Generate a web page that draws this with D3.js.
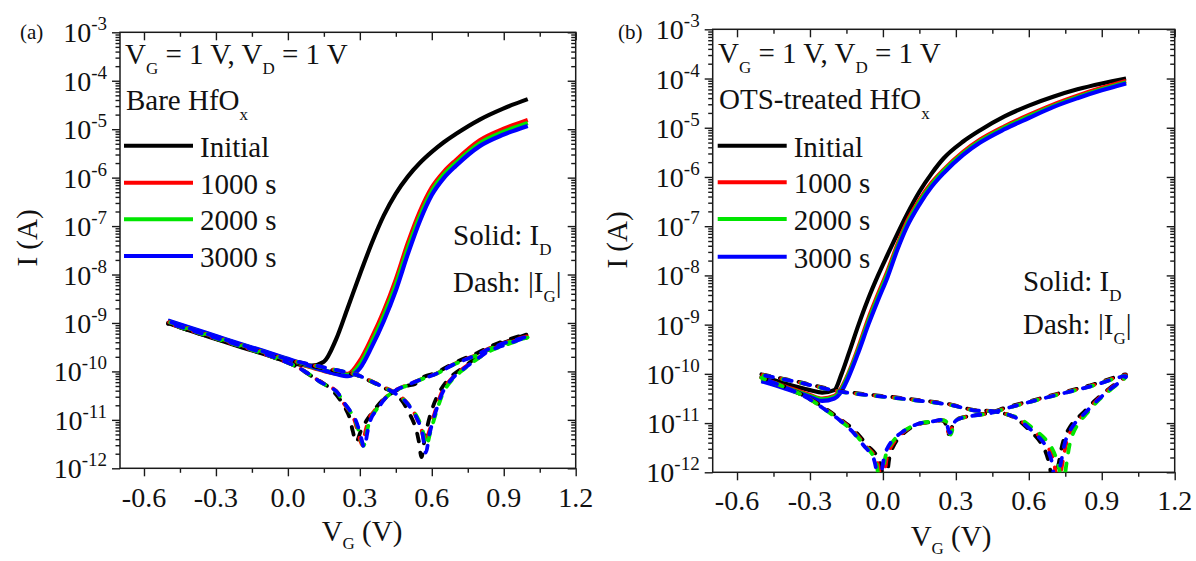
<!DOCTYPE html>
<html>
<head>
<meta charset="utf-8">
<script src="https://cdn.jsdelivr.net/npm/d3@7/dist/d3.min.js"></script>
<style>
  body { margin: 0; background: #fff; }
  svg text { font-family: "Liberation Serif", "Times New Roman", serif; fill: #111; }
</style>
</head>
<body>
<svg id="fig" width="1196" height="561"></svg>
<script>
// ---------- data ----------
const seriesNames = ["Initial", "1000 s", "2000 s", "3000 s"];
const seriesColors = ["#000000", "#ff0000", "#00e600", "#0000ff"];

const xTickValues = [-0.6, -0.3, 0.0, 0.3, 0.6, 0.9, 1.2];
const xTickLabels = ["-0.6", "-0.3", "0.0", "0.3", "0.6", "0.9", "1.2"];
const xMinorValues = [-0.45, -0.15, 0.15, 0.45, 0.75, 1.05];
const yDecadeExponents = [-12, -11, -10, -9, -8, -7, -6, -5, -4, -3];

// (a) bare HfOx: drain current on a shared gate-voltage grid
const vgA = [-0.5, -0.4, -0.3, -0.2, -0.1, 0.0, 0.05, 0.1, 0.15, 0.2, 0.25, 0.3, 0.35, 0.4, 0.45, 0.5, 0.55, 0.6, 0.65, 0.7, 0.8, 0.9, 1.0];
const idA_initial = [1.0e-9, 6.76e-10, 4.68e-10, 3.24e-10, 2.29e-10, 1.58e-10, 1.38e-10, 1.32e-10, 1.58e-10, 4.47e-10, 2.09e-9, 1.0e-8, 4.47e-8, 1.66e-7, 4.68e-7, 1.05e-6, 2.0e-6, 3.39e-6, 5.37e-6, 7.94e-6, 1.58e-5, 2.69e-5, 4.17e-5];
const idA_1000 = [1.07e-9, 7.41e-10, 5.13e-10, 3.55e-10, 2.51e-10, 1.74e-10, 1.45e-10, 1.20e-10, 1.02e-10, 9.12e-11, 8.91e-11, 1.66e-10, 5.01e-10, 1.78e-9, 7.94e-9, 4.47e-8, 2.0e-7, 6.31e-7, 1.32e-6, 2.29e-6, 5.89e-6, 1.02e-5, 1.55e-5];
const idA_2000 = [1.10e-9, 7.59e-10, 5.25e-10, 3.63e-10, 2.57e-10, 1.78e-10, 1.48e-10, 1.23e-10, 1.05e-10, 9.12e-11, 8.51e-11, 1.38e-10, 4.07e-10, 1.41e-9, 6.17e-9, 3.47e-8, 1.58e-7, 5.25e-7, 1.15e-6, 2.0e-6, 5.13e-6, 8.91e-6, 1.35e-5];
const idA_3000 = [1.12e-9, 7.76e-10, 5.37e-10, 3.72e-10, 2.63e-10, 1.82e-10, 1.51e-10, 1.26e-10, 1.05e-10, 8.91e-11, 7.94e-11, 1.15e-10, 3.24e-10, 1.10e-9, 4.68e-9, 2.63e-8, 1.26e-7, 4.37e-7, 9.77e-7, 1.74e-6, 4.47e-6, 7.76e-6, 1.17e-5];

// (a) gate leakage |IG|, forward then reverse sweep as [VG, |IG|]
const igA_initial = [[-0.5,1.0e-9],[-0.3,4.9e-10],[-0.1,2.4e-10],[0.0,1.7e-10],[0.15,1.15e-10],[0.29,8.3e-11],[0.34,6.4e-11],[0.40,4.6e-11],[0.44,3.6e-11],[0.475,2.5e-11],[0.505,1.4e-11],[0.53,7.5e-12],[0.545,3.8e-12],[0.557,1.7e-12],[0.572,4.5e-12],[0.60,1.6e-11],[0.635,4.0e-11],[0.68,7.8e-11],[0.73,1.2e-10],[0.79,2.0e-10],[0.84,2.9e-10],[0.91,4.1e-10],[1.0,5.9e-10],
  [0.91,4.4e-10],[0.84,3.2e-10],[0.786,2.35e-10],[0.70,1.55e-10],[0.62,9.5e-11],[0.56,7.4e-11],[0.53,5.5e-11],[0.495,5.0e-11],[0.45,4.0e-11],[0.40,2.7e-11],[0.36,1.6e-11],[0.33,1.0e-11],[0.305,6.0e-12],[0.285,3.5e-12],[0.27,6.0e-12],[0.255,1.2e-11],[0.22,2.5e-11],[0.18,4.3e-11],[0.13,6.5e-11],[0.09,8.5e-11],[0.03,1.3e-10],[-0.1,2.3e-10],[-0.3,4.7e-10],[-0.5,9.6e-10]];
const igA_1000 = [[-0.5,1.05e-9],[-0.3,5.1e-10],[-0.1,2.5e-10],[0.0,1.75e-10],[0.15,1.2e-10],[0.29,8.5e-11],[0.34,6.6e-11],[0.40,4.8e-11],[0.44,3.8e-11],[0.48,2.75e-11],[0.52,1.6e-11],[0.54,1.0e-11],[0.557,6.2e-12],[0.572,3.4e-12],[0.59,6.0e-12],[0.62,1.85e-11],[0.647,4.2e-11],[0.69,7.8e-11],[0.73,1.15e-10],[0.79,1.85e-10],[0.84,2.7e-10],[0.91,3.7e-10],[1.0,5.3e-10],
  [0.91,4.0e-10],[0.84,3.0e-10],[0.786,2.2e-10],[0.70,1.48e-10],[0.62,9.1e-11],[0.564,7.2e-11],[0.495,5.2e-11],[0.453,4.2e-11],[0.411,3.0e-11],[0.37,1.74e-11],[0.342,1.15e-11],[0.325,6.3e-12],[0.31,3.0e-12],[0.292,5.6e-12],[0.272,1.15e-11],[0.23,2.3e-11],[0.2,4.0e-11],[0.133,6.2e-11],[0.105,7.8e-11],[0.036,1.26e-10],[-0.1,2.3e-10],[-0.3,4.8e-10],[-0.5,9.8e-10]];
const igA_2000 = [[-0.5,1.06e-9],[-0.3,5.15e-10],[-0.1,2.52e-10],[0.0,1.76e-10],[0.15,1.2e-10],[0.29,8.4e-11],[0.34,6.5e-11],[0.40,4.7e-11],[0.44,3.7e-11],[0.48,2.7e-11],[0.52,1.6e-11],[0.545,1.0e-11],[0.562,6.0e-12],[0.578,3.0e-12],[0.595,5.8e-12],[0.625,1.8e-11],[0.652,4.0e-11],[0.695,7.6e-11],[0.735,1.12e-10],[0.79,1.8e-10],[0.84,2.6e-10],[0.91,3.55e-10],[1.0,5.0e-10],
  [0.91,3.85e-10],[0.84,2.9e-10],[0.786,2.15e-10],[0.70,1.45e-10],[0.62,9.0e-11],[0.564,7.1e-11],[0.495,5.1e-11],[0.453,4.1e-11],[0.411,2.95e-11],[0.372,1.7e-11],[0.346,1.1e-11],[0.33,6.0e-12],[0.315,2.9e-12],[0.297,5.5e-12],[0.276,1.1e-11],[0.234,2.25e-11],[0.2,3.9e-11],[0.133,6.1e-11],[0.105,7.7e-11],[0.036,1.25e-10],[-0.1,2.3e-10],[-0.3,4.8e-10],[-0.5,9.9e-10]];
const igA_3000 = [[-0.5,1.08e-9],[-0.3,5.2e-10],[-0.1,2.55e-10],[0.0,1.78e-10],[0.15,1.21e-10],[0.29,8.4e-11],[0.34,6.5e-11],[0.40,4.7e-11],[0.44,3.7e-11],[0.48,2.7e-11],[0.52,1.55e-11],[0.543,9.5e-12],[0.56,5.5e-12],[0.575,2.1e-12],[0.592,5.5e-12],[0.622,1.8e-11],[0.65,4.1e-11],[0.692,7.7e-11],[0.733,1.13e-10],[0.79,1.82e-10],[0.84,2.65e-10],[0.91,3.6e-10],[1.0,5.2e-10],
  [0.91,3.95e-10],[0.84,2.95e-10],[0.786,2.18e-10],[0.70,1.46e-10],[0.62,9.0e-11],[0.564,7.1e-11],[0.495,5.15e-11],[0.453,4.15e-11],[0.411,2.95e-11],[0.374,1.7e-11],[0.348,1.1e-11],[0.333,6.0e-12],[0.318,2.7e-12],[0.3,5.5e-12],[0.278,1.1e-11],[0.235,2.25e-11],[0.2,3.95e-11],[0.133,6.15e-11],[0.105,7.75e-11],[0.036,1.25e-10],[-0.1,2.35e-10],[-0.3,4.9e-10],[-0.5,1.0e-9]];

// (b) OTS-treated HfOx: drain current on a shared gate-voltage grid
const vgB = [-0.5, -0.4, -0.3, -0.25, -0.2, -0.17, -0.14, -0.1, -0.06, -0.02, 0.02, 0.06, 0.1, 0.15, 0.2, 0.25, 0.33, 0.4, 0.5, 0.6, 0.7, 0.8, 0.9, 1.0];
const idB_initial = [8.91e-11, 6.31e-11, 4.68e-11, 4.17e-11, 4.68e-11, 1.0e-10, 2.63e-10, 1.0e-9, 3.39e-9, 1.0e-8, 2.69e-8, 7.08e-8, 1.78e-7, 5.01e-7, 1.17e-6, 2.40e-6, 5.25e-6, 8.91e-6, 1.70e-5, 2.82e-5, 4.27e-5, 6.03e-5, 7.94e-5, 1.0e-4];
const idB_1000 = [7.94e-11, 5.50e-11, 3.72e-11, 3.16e-11, 3.55e-11, 5.25e-11, 1.07e-10, 3.55e-10, 1.32e-9, 4.17e-9, 1.26e-8, 4.27e-8, 1.26e-7, 3.39e-7, 7.59e-7, 1.41e-6, 3.24e-6, 5.75e-6, 1.07e-5, 1.82e-5, 2.95e-5, 4.47e-5, 6.46e-5, 8.91e-5];
const idB_2000 = [7.59e-11, 5.25e-11, 3.55e-11, 3.02e-11, 3.39e-11, 4.90e-11, 1.0e-10, 3.16e-10, 1.15e-9, 3.63e-9, 1.10e-8, 3.80e-8, 1.12e-7, 3.09e-7, 6.92e-7, 1.32e-6, 3.02e-6, 5.37e-6, 1.0e-5, 1.70e-5, 2.75e-5, 4.17e-5, 6.03e-5, 8.32e-5];
const idB_3000 = [7.08e-11, 5.01e-11, 3.39e-11, 2.82e-11, 3.16e-11, 4.47e-11, 8.91e-11, 2.82e-10, 1.0e-9, 3.16e-9, 9.55e-9, 3.39e-8, 1.0e-7, 2.75e-7, 6.31e-7, 1.20e-6, 2.82e-6, 5.01e-6, 9.33e-6, 1.58e-5, 2.63e-5, 3.98e-5, 5.75e-5, 7.94e-5];

// (b) gate leakage |IG|, forward then reverse sweep as [VG, |IG|]
const igB_initial = [[-0.5,9.8e-11],[-0.35,6.9e-11],[-0.176,4.5e-11],[0.07,3.25e-11],[0.277,2.4e-11],[0.372,1.85e-11],[0.45,1.75e-11],[0.51,1.5e-11],[0.55,1.22e-11],[0.6,7.4e-12],[0.64,4.6e-12],[0.665,2.9e-12],[0.685,1.4e-12],[0.70,5.0e-13],[0.72,1.3e-12],[0.745,4.8e-12],[0.78,1.0e-11],[0.825,1.65e-11],[0.875,2.95e-11],[0.93,5.0e-11],[1.0,9.6e-11],
  [0.85,5.8e-11],[0.714,3.9e-11],[0.605,2.8e-11],[0.509,2.1e-11],[0.44,1.62e-11],[0.36,1.4e-11],[0.3,1.15e-11],[0.27,6.0e-12],[0.25,1.1e-11],[0.2,1.05e-11],[0.14,9.3e-12],[0.09,6.5e-12],[0.055,4.3e-12],[0.03,2.3e-12],[0.01,6.0e-13],[-0.02,2.0e-12],[-0.065,3.6e-12],[-0.12,7.3e-12],[-0.175,1.2e-11],[-0.235,1.95e-11],[-0.3,3.1e-11],[-0.38,4.9e-11],[-0.5,8.6e-11]];
const igB_1000 = [[-0.5,9.6e-11],[-0.35,6.8e-11],[-0.176,4.4e-11],[0.07,3.2e-11],[0.277,2.36e-11],[0.372,1.83e-11],[0.45,1.74e-11],[0.51,1.51e-11],[0.55,1.26e-11],[0.608,7.8e-12],[0.65,5.0e-12],[0.68,3.2e-12],[0.703,1.6e-12],[0.72,5.0e-13],[0.738,1.5e-12],[0.762,5.2e-12],[0.795,1.02e-11],[0.835,1.62e-11],[0.88,2.9e-11],[0.93,4.8e-11],[1.0,9.3e-11],
  [0.85,5.6e-11],[0.714,3.8e-11],[0.605,2.72e-11],[0.509,2.02e-11],[0.44,1.6e-11],[0.36,1.39e-11],[0.3,1.13e-11],[0.272,6.2e-12],[0.252,1.12e-11],[0.2,1.06e-11],[0.14,9.4e-12],[0.085,6.6e-12],[0.05,4.4e-12],[0.02,2.4e-12],[0.0,6.0e-13],[-0.03,2.0e-12],[-0.072,3.55e-12],[-0.125,7.2e-12],[-0.178,1.18e-11],[-0.238,1.92e-11],[-0.3,3.05e-11],[-0.38,4.8e-11],[-0.5,8.4e-11]];
const igB_2000 = [[-0.5,9.5e-11],[-0.35,6.75e-11],[-0.176,4.36e-11],[0.07,3.15e-11],[0.277,2.33e-11],[0.372,1.81e-11],[0.45,1.73e-11],[0.51,1.5e-11],[0.56,1.25e-11],[0.62,7.6e-12],[0.665,4.9e-12],[0.695,3.1e-12],[0.72,1.5e-12],[0.74,5.0e-13],[0.755,1.5e-12],[0.775,5.0e-12],[0.805,1.0e-11],[0.84,1.6e-11],[0.885,2.85e-11],[0.935,4.7e-11],[1.0,9.0e-11],
  [0.85,5.5e-11],[0.714,3.72e-11],[0.605,2.69e-11],[0.509,2.0e-11],[0.44,1.58e-11],[0.36,1.38e-11],[0.3,1.12e-11],[0.278,5.8e-12],[0.258,1.1e-11],[0.2,1.07e-11],[0.14,9.5e-12],[0.08,6.6e-12],[0.045,4.5e-12],[0.015,2.5e-12],[-0.01,6.3e-13],[-0.035,2.0e-12],[-0.076,3.55e-12],[-0.128,7.1e-12],[-0.18,1.17e-11],[-0.24,1.91e-11],[-0.3,3.02e-11],[-0.38,4.79e-11],[-0.5,8.3e-11]];
const igB_3000 = [[-0.5,9.55e-11],[-0.35,6.76e-11],[-0.176,4.37e-11],[0.07,3.16e-11],[0.277,2.34e-11],[0.372,1.82e-11],[0.45,1.74e-11],[0.51,1.51e-11],[0.55,1.26e-11],[0.605,7.6e-12],[0.646,4.9e-12],[0.673,3.2e-12],[0.695,1.6e-12],[0.71,5.0e-13],[0.73,1.4e-12],[0.755,5.0e-12],[0.79,1.0e-11],[0.83,1.58e-11],[0.88,2.82e-11],[0.93,4.68e-11],[1.0,8.9e-11],
  [0.85,5.5e-11],[0.714,3.72e-11],[0.605,2.69e-11],[0.509,2.0e-11],[0.44,1.58e-11],[0.36,1.38e-11],[0.3,1.12e-11],[0.275,6.3e-12],[0.255,1.12e-11],[0.2,1.07e-11],[0.14,9.5e-12],[0.08,6.6e-12],[0.04,4.5e-12],[0.01,2.5e-12],[-0.015,6.3e-13],[-0.04,2.0e-12],[-0.08,3.55e-12],[-0.13,7.1e-12],[-0.18,1.17e-11],[-0.24,1.91e-11],[-0.3,3.02e-11],[-0.38,4.79e-11],[-0.5,8.3e-11]];

// ---------- drawing ----------
const svg = d3.select("#fig");
const INK = "#1a1a1a";

// text with sub/superscript runs: parts = [[string, kind]], kind in {undefined,"sub","sup"}
function richText(parent, x, y, parts, size, opts = {}) {
  const t = parent.append("text")
    .attr("x", x).attr("y", y)
    .attr("font-size", size)
    .attr("text-anchor", opts.anchor || "start");
  const subShift = opts.subShift ?? Math.round(size * 0.32);
  const supShift = opts.supShift ?? -Math.round(size * 0.42);
  const smallSize = opts.smallSize ?? Math.round(size * 0.6);
  let cur = 0;
  parts.forEach(([s, kind]) => {
    const target = kind === "sub" ? subShift : kind === "sup" ? supShift : 0;
    const ts = t.append("tspan").attr("dy", target - cur).text(s);
    if (kind) ts.attr("font-size", smallSize);
    cur = target;
  });
  return t;
}

function drawPanel(p) {
  const x = d3.scaleLinear().domain([-0.7, 1.2]).range([p.left, p.right]);
  const y = d3.scaleLog().domain([1e-12, 1e-3]).range([p.bottom, p.top]);
  const g = svg.append("g");

  const clipId = "clip-" + p.key;
  svg.append("clipPath").attr("id", clipId)
    .append("rect")
    .attr("x", p.left).attr("y", p.top)
    .attr("width", p.right - p.left).attr("height", p.bottom - p.top);

  const majorY = yDecadeExponents.map(e => Math.pow(10, e));
  const minorY = [];
  yDecadeExponents.slice(0, -1).forEach(e => {
    for (let m = 2; m <= 9; m++) minorY.push(m * Math.pow(10, e));
  });

  const styleAxis = sel => {
    sel.select(".domain").remove();
    sel.selectAll(".tick line").attr("stroke", INK).attr("stroke-width", 1.4);
    sel.selectAll(".tick text").remove();
  };

  const MAJ = 8, MIN = 4.5;
  // left (outward) and right (inward)
  g.append("g").attr("transform", `translate(${p.left},0)`)
    .call(d3.axisLeft(y).tickValues(majorY).tickSize(MAJ).tickSizeOuter(0)).call(styleAxis);
  g.append("g").attr("transform", `translate(${p.left},0)`)
    .call(d3.axisLeft(y).tickValues(minorY).tickSize(MIN).tickSizeOuter(0)).call(styleAxis);
  g.append("g").attr("transform", `translate(${p.right},0)`)
    .call(d3.axisLeft(y).tickValues(majorY).tickSize(MAJ).tickSizeOuter(0)).call(styleAxis);
  g.append("g").attr("transform", `translate(${p.right},0)`)
    .call(d3.axisLeft(y).tickValues(minorY).tickSize(MIN).tickSizeOuter(0)).call(styleAxis);
  // bottom (outward) and top (inward)
  g.append("g").attr("transform", `translate(0,${p.bottom})`)
    .call(d3.axisBottom(x).tickValues(xTickValues).tickSize(MAJ).tickSizeOuter(0)).call(styleAxis);
  g.append("g").attr("transform", `translate(0,${p.bottom})`)
    .call(d3.axisBottom(x).tickValues(xMinorValues).tickSize(MIN).tickSizeOuter(0)).call(styleAxis);
  g.append("g").attr("transform", `translate(0,${p.top})`)
    .call(d3.axisBottom(x).tickValues(xTickValues).tickSize(MAJ).tickSizeOuter(0)).call(styleAxis);
  g.append("g").attr("transform", `translate(0,${p.top})`)
    .call(d3.axisBottom(x).tickValues(xMinorValues).tickSize(MIN).tickSizeOuter(0)).call(styleAxis);

  g.append("rect")
    .attr("x", p.left).attr("y", p.top)
    .attr("width", p.right - p.left).attr("height", p.bottom - p.top)
    .attr("fill", "none").attr("stroke", INK).attr("stroke-width", 1.5);

  // tick labels
  yDecadeExponents.forEach(e => {
    richText(g, p.left - 13, y(Math.pow(10, e)) + 10, [["10"], [String(e), "sup"]], 28,
      { anchor: "end", supShift: -12, smallSize: 19 });
  });
  xTickValues.forEach((v, i) => {
    g.append("text").attr("x", x(v)).attr("y", p.tickLabelY)
      .attr("text-anchor", "middle").attr("font-size", 28).text(xTickLabels[i]);
  });

  // axis titles
  richText(g, p.xTitleX, p.xTitleY, [["V"], ["G", "sub"], [" (V)"]], 29,
    { anchor: "middle", subShift: 8, smallSize: 17 });
  g.append("text")
    .attr("transform", `translate(${p.yTitleX},${p.yTitleY}) rotate(-90)`)
    .attr("text-anchor", "middle").attr("font-size", 29).text("I (A)");

  // curves: solid drain current first, dashed gate current on top
  const plot = g.append("g").attr("clip-path", `url(#${clipId})`);
  const solid = d3.line().x(d => x(d[0])).y(d => y(d[1])).curve(d3.curveMonotoneX);
  const dashed = d3.line().x(d => x(d[0])).y(d => y(d[1])).curve(d3.curveCatmullRom.alpha(0.5));

  p.id.forEach((vals, i) => {
    plot.append("path")
      .datum(p.vg.map((v, k) => [v, vals[k]]))
      .attr("d", solid)
      .attr("fill", "none").attr("stroke", seriesColors[i])
      .attr("stroke-width", 4.2).attr("stroke-linejoin", "round");
  });
  p.ig.forEach((pts, i) => {
    plot.append("path")
      .datum(pts)
      .attr("d", dashed)
      .attr("fill", "none").attr("stroke", seriesColors[i])
      .attr("stroke-width", 3.8).attr("stroke-linecap", "round")
      .attr("stroke-dasharray", "8 11").attr("stroke-dashoffset", -i * 1.3);
  });

  // annotations
  const ann = g.append("g");
  ann.append("text").attr("x", p.tagX).attr("y", 39).attr("font-size", 21).text(p.tag);
  richText(ann, p.textX, p.condY, [["V"], ["G", "sub"], [" = 1 V, V"], ["D", "sub"], [" = 1 V"]], 29,
    { subShift: 10, smallSize: 17 });
  richText(ann, p.textX + 1, p.matY, [[p.material], ["x", "sub"]], 29, { subShift: 10, smallSize: 17 });

  p.legendY.forEach((ly, i) => {
    ann.append("line")
      .attr("x1", p.legendX1).attr("x2", p.legendX2)
      .attr("y1", ly).attr("y2", ly)
      .attr("stroke", seriesColors[i]).attr("stroke-width", 4);
    ann.append("text").attr("x", p.legendX2 + 7).attr("y", ly + 11)
      .attr("font-size", 29).text(seriesNames[i]);
  });

  richText(ann, p.noteX, p.noteY1, [["Solid: I"], ["D", "sub"]], 29, { subShift: 10, smallSize: 17 });
  richText(ann, p.noteX, p.noteY2, [["Dash: |I"], ["G", "sub"], ["|"]], 29, { subShift: 10, smallSize: 17 });
}

drawPanel({
  key: "a", tag: "(a)", tagX: 20,
  left: 120, right: 575.7, top: 32.3, bottom: 468.3,
  tickLabelY: 507, xTitleX: 362, xTitleY: 541, yTitleX: 37, yTitleY: 238,
  vg: vgA,
  id: [idA_initial, idA_1000, idA_2000, idA_3000],
  ig: [igA_initial, igA_1000, igA_2000, igA_3000],
  textX: 125, condY: 64, material: "Bare HfO", matY: 110,
  legendX1: 124, legendX2: 193, legendY: [145.7, 182.7, 219.3, 256],
  noteX: 453, noteY1: 245, noteY2: 292
});

drawPanel({
  key: "b", tag: "(b)", tagX: 618,
  left: 712.7, right: 1174.7, top: 29.3, bottom: 472.3,
  tickLabelY: 510, xTitleX: 951, xTitleY: 546, yTitleX: 627, yTitleY: 240,
  vg: vgB,
  id: [idB_initial, idB_1000, idB_2000, idB_3000],
  ig: [igB_initial, igB_1000, igB_2000, igB_3000],
  textX: 718, condY: 63, material: "OTS-treated HfO", matY: 109,
  legendX1: 717.7, legendX2: 786.7, legendY: [145.7, 182.3, 219, 256.7],
  noteX: 1023, noteY1: 291, noteY2: 334
});
</script>
</body>
</html>
